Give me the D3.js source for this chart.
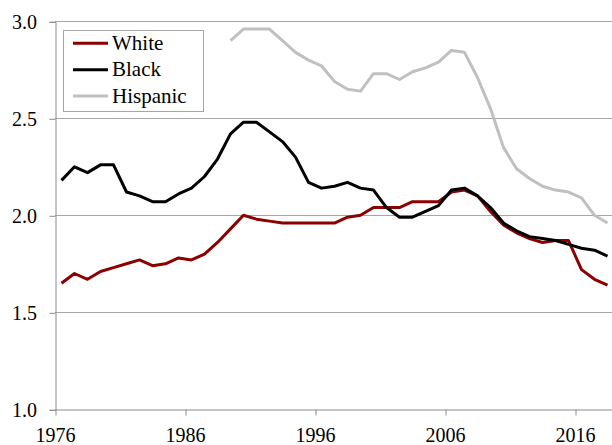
<!DOCTYPE html>
<html>
<head>
<meta charset="utf-8">
<script src="https://cdn.jsdelivr.net/npm/d3@7"></script>
</head>
<body style="margin:0">
<script>
// years 1976..2018, hispanic from 1989
var years = d3.range(1976, 2019)
var white = [1.65,1.70,1.67,1.71,1.73,1.75,1.77,1.74,1.75,1.78,1.77,1.80,1.86,1.93,2.00,1.98,1.97,1.96,1.96,1.96,
             1.96,1.96,1.99,2.00,2.04,2.04,2.04,2.07,2.07,2.07,2.12,2.13,2.10,2.02,1.95,1.91,1.88,1.86,1.87,1.87,
             1.72,1.67,1.64]
var black = [2.18,2.25,2.22,2.26,2.26,2.12,2.10,2.07,2.07,2.11,2.14,2.20,2.29,2.42,2.48,2.48,2.43,2.38,2.30,2.17,
             2.14,2.15,2.17,2.14,2.13,2.04,1.99,1.99,2.02,2.05,2.13,2.14,2.10,2.04,1.96,1.92,1.89,1.88,1.87,1.85,
             1.83,1.82,1.79]
var hispYears = d3.range(1989, 2019)
var hispanic = [2.90,2.96,2.96,2.96,2.90,2.84,2.80,2.77,2.69,2.65,2.64,2.73,2.73,2.70,2.74,2.76,2.79,2.85,2.84,2.71,
                2.55,2.35,2.24,2.19,2.15,2.13,2.12,2.09,2.00,1.96]
var yTicks = [1.0, 1.5, 2.0, 2.5, 3.0]
var xTicks = [1976, 1986, 1996, 2006, 2016]

var series = [
  {name: "White", color: "#8b0000", years: years, values: white},
  {name: "Black", color: "#000000", years: years, values: black},
  {name: "Hispanic", color: "#c0c0c0", years: hispYears, values: hispanic}
]

var serif = "Liberation Serif"
var width = 612, height = 445
var svg = d3.select("body").append("svg")
    .attr("width", width)
    .attr("height", height)

var x = d3.scaleLinear().domain([1976, 2019]).range([55, 614])
var y = d3.scaleLinear().domain([1.0, 3.0]).range([409.3, 21.3])

// gridlines
svg.append("g")
    .selectAll("line")
    .data(yTicks.slice(1))
    .enter().append("line")
    .attr("x1", 55).attr("x2", width)
    .attr("y1", d => Math.round(y(d)) + 0.5)
    .attr("y2", d => Math.round(y(d)) + 0.5)
    .attr("stroke", "#a6a6a6")

// axes: lines and ticks only, labels added as plain text below
var yAxis = svg.append("g")
    .attr("transform", "translate(55.5,0.5)")
    .call(d3.axisLeft(y).tickValues(yTicks).tickFormat("").tickSize(6))
yAxis.select(".domain").attr("stroke", "#8c8c8c")
yAxis.selectAll(".tick line").attr("stroke", "#8c8c8c")

var xAxis = svg.append("g")
    .attr("transform", "translate(0.5," + (Math.round(y(1.0)) + 0.5) + ")")
    .call(d3.axisBottom(x).tickValues(xTicks).tickFormat("").tickSize(6).tickSizeOuter(0))
xAxis.select(".domain").attr("stroke", "#8c8c8c")
xAxis.selectAll(".tick line").attr("stroke", "#8c8c8c")

svg.selectAll("text.ylab")
    .data(yTicks)
    .enter().append("text")
    .attr("class", "ylab")
    .attr("x", 37)
    .attr("y", d => y(d) + 7.5)
    .attr("text-anchor", "end")
    .style("font-family", serif)
    .style("font-size", "20px")
    .text(d3.format(".1f"))

svg.selectAll("text.xlab")
    .data(xTicks)
    .enter().append("text")
    .attr("class", "xlab")
    .attr("x", d => x(d) + 0.5)
    .attr("y", 442)
    .attr("text-anchor", "middle")
    .style("font-family", serif)
    .style("font-size", "20px")
    .text(d3.format("d"))

// lines
var line = d3.line()
    .x(d => x(d[0] + 0.5))
    .y(d => y(d[1]))

series.forEach(function(s) {
  svg.append("path")
      .datum(d3.zip(s.years, s.values))
      .attr("fill", "none")
      .attr("stroke", s.color)
      .attr("stroke-width", 3)
      .attr("stroke-linejoin", "round")
      .attr("d", line)
})

// legend
svg.append("rect")
    .attr("x", 63.5).attr("y", 30.5)
    .attr("width", 140).attr("height", 81)
    .attr("fill", "#fff")
    .attr("stroke", "#a6a6a6")

series.forEach(function(s, i) {
  var ly = 43.3 + i * 26.4
  svg.append("line")
      .attr("x1", 73).attr("x2", 108)
      .attr("y1", ly).attr("y2", ly)
      .attr("stroke", s.color)
      .attr("stroke-width", 3)
  svg.append("text")
      .attr("x", 112)
      .attr("y", ly + 6.5)
      .style("font-family", serif)
      .style("font-size", "21px")
      .text(s.name)
})
</script>
</body>
</html>
